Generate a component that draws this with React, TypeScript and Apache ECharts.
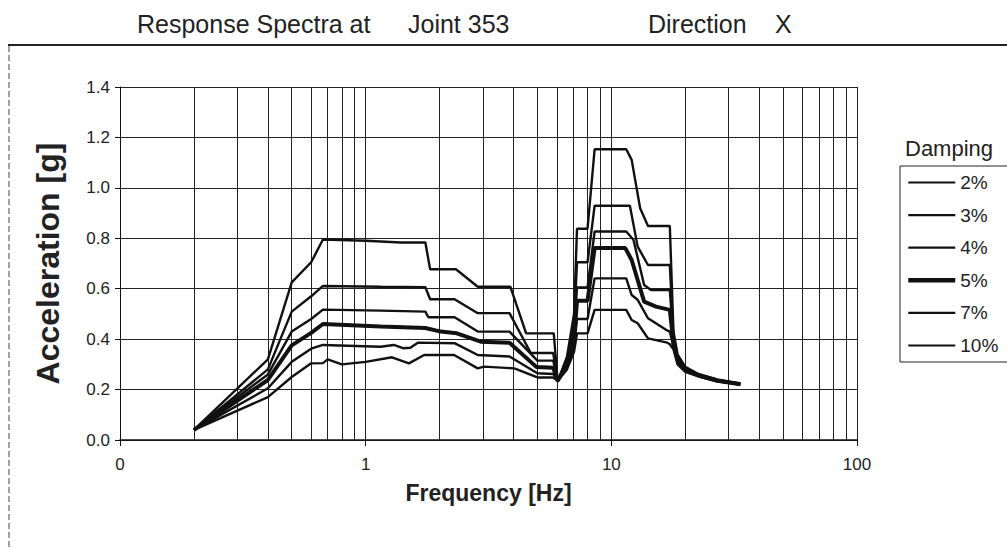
import React, { useEffect, useRef } from "react";
import * as echarts from "echarts";

// Frequency [Hz], Acceleration [g]
const damp2: [number, number][] = [
  [0.2, 0.04], [0.4, 0.32], [0.5, 0.625], [0.6, 0.705], [0.67, 0.795], [1.0, 0.79], [1.39, 0.783], [1.75, 0.783],
  [1.83, 0.677], [2.33, 0.677], [2.86, 0.608], [3.88, 0.608], [4.5, 0.423], [5.83, 0.423], [6.05, 0.231],
  [6.6, 0.33], [7.05, 0.5], [7.25, 0.838], [8.0, 0.838], [8.55, 1.153], [11.5, 1.153], [12.1, 1.111],
  [13.1, 0.919], [14.1, 0.849], [17.3, 0.849], [17.9, 0.43], [18.6, 0.34], [20, 0.29], [22.6, 0.262],
  [27, 0.24], [33.5, 0.224],
];
const damp3: [number, number][] = [
  [0.2, 0.04], [0.4, 0.28], [0.5, 0.509], [0.6, 0.57], [0.67, 0.611], [1.15, 0.608], [1.75, 0.606],
  [1.83, 0.558], [2.3, 0.558], [2.86, 0.503], [3.85, 0.503], [4.7, 0.345], [5.8, 0.345], [6.05, 0.235],
  [6.6, 0.32], [7.05, 0.46], [7.25, 0.705], [8.0, 0.705], [8.55, 0.929], [11.9, 0.929], [12.8, 0.767],
  [14.1, 0.694], [17.3, 0.694], [17.9, 0.41], [18.6, 0.33], [20, 0.285], [22.6, 0.26], [27, 0.238],
  [33.5, 0.223],
];
const damp4: [number, number][] = [
  [0.2, 0.04], [0.4, 0.26], [0.5, 0.43], [0.6, 0.48], [0.67, 0.517], [1.15, 0.513], [1.75, 0.509],
  [1.8, 0.487], [2.3, 0.487], [2.86, 0.43], [3.85, 0.43], [5.0, 0.315], [5.8, 0.315], [6.05, 0.235],
  [6.6, 0.31], [7.05, 0.43], [7.25, 0.605], [8.0, 0.605], [8.55, 0.827], [11.5, 0.827], [12.3, 0.794],
  [13.6, 0.615], [14.5, 0.595], [17.3, 0.595], [17.9, 0.395], [18.6, 0.325], [20, 0.28], [22.6, 0.258],
  [27, 0.236], [33.5, 0.222],
];
const damp5: [number, number][] = [
  [0.2, 0.04], [0.4, 0.238], [0.5, 0.375], [0.6, 0.425], [0.67, 0.46], [1.15, 0.45], [1.75, 0.444],
  [2.02, 0.43], [2.35, 0.423], [2.94, 0.39], [3.85, 0.386], [4.95, 0.29], [5.8, 0.287], [6.05, 0.235],
  [6.6, 0.3], [7.05, 0.4], [7.25, 0.552], [8.0, 0.552], [8.55, 0.761], [11.4, 0.761], [12.1, 0.714],
  [13.6, 0.549], [15.2, 0.529], [17.3, 0.516], [17.9, 0.385], [18.6, 0.32], [20, 0.278], [22.6, 0.256],
  [27, 0.235], [33.5, 0.221],
];
const damp7: [number, number][] = [
  [0.2, 0.04], [0.4, 0.205], [0.5, 0.31], [0.6, 0.362], [0.67, 0.377], [1.15, 0.37], [1.3, 0.377],
  [1.42, 0.364], [1.52, 0.366], [1.63, 0.386], [2.3, 0.384], [2.86, 0.337], [3.85, 0.331], [5.0, 0.265],
  [5.8, 0.262], [6.05, 0.235], [6.6, 0.29], [7.05, 0.37], [7.25, 0.48], [8.0, 0.48], [8.55, 0.641],
  [11.5, 0.641], [12.1, 0.575], [12.8, 0.556], [14.1, 0.483], [16.7, 0.437], [17.3, 0.43], [17.9, 0.37],
  [18.6, 0.31], [20, 0.275], [22.6, 0.254], [27, 0.234], [33.5, 0.22],
];
const damp10: [number, number][] = [
  [0.2, 0.04], [0.4, 0.17], [0.5, 0.25], [0.6, 0.304], [0.67, 0.305], [0.7, 0.32], [0.8, 0.3], [1.0, 0.31],
  [1.28, 0.328], [1.5, 0.304], [1.73, 0.337], [2.29, 0.337], [2.86, 0.284], [3.03, 0.291], [4.03, 0.284],
  [5.0, 0.248], [5.8, 0.248], [6.05, 0.235], [6.6, 0.28], [7.05, 0.35], [7.25, 0.423], [8.0, 0.423],
  [8.55, 0.516], [11.5, 0.516], [12.1, 0.476], [12.8, 0.463], [14.1, 0.403], [16.9, 0.386], [17.3, 0.38],
  [17.9, 0.36], [18.6, 0.3], [20, 0.27], [22.6, 0.252], [27, 0.233], [33.5, 0.22],
];

const seriesNames = ["2%", "3%", "4%", "5%", "7%", "10%"];
const seriesData = [damp2, damp3, damp4, damp5, damp7, damp10];
const xTickLabels = ["0", "1", "10", "100"];
const xMinorGrid = [0.2, 0.3, 0.4, 0.5, 0.6, 0.7, 0.8, 0.9, 2, 3, 4, 5, 6, 7, 8, 9, 20, 30, 40, 50, 60, 70, 80, 90];

const FONT = "'Liberation Sans', Arial, sans-serif";

export default function App() {
  const ref = useRef<HTMLDivElement>(null);
  useEffect(() => {
    if (!ref.current) return;
    const chart = echarts.init(ref.current, undefined, { renderer: "svg" });
    const lineW = (name: string) => (name === "5%" ? 4 : 2.4);
    const series: any[] = seriesNames.map((name, i) => ({
      name,
      type: "line",
      data: seriesData[i],
      symbol: "none",
      smooth: false,
      z: 3,
      lineStyle: { color: "#111", width: lineW(name) },
      itemStyle: { color: "#111" },
    }));
    series[0].markLine = {
      silent: true,
      symbol: ["none", "none"],
      label: { show: false },
      lineStyle: { color: "#222", width: 1, type: "solid" },
      emphasis: { disabled: true },
      data: xMinorGrid.map((v) => ({ xAxis: v })),
      z: 1,
    };
    chart.setOption({
      animation: false,
      backgroundColor: "#fff",
      textStyle: { fontFamily: FONT },
      grid: { left: 120, right: 150, top: 87, bottom: 108, containLabel: false },
      xAxis: {
        type: "log",
        logBase: 10,
        min: 0.1,
        max: 100,
        name: "Frequency [Hz]",
        nameLocation: "middle",
        nameGap: 41,
        nameTextStyle: { fontSize: 23, fontWeight: "bold", color: "#222", fontFamily: FONT, verticalAlign: "top" },
        axisLine: { show: true, lineStyle: { color: "#111", width: 1.5 } },
        axisTick: { show: true, length: 6, inside: false, lineStyle: { color: "#111" } },
        axisLabel: {
          margin: 16,
          fontSize: 17,
          color: "#222",
          fontFamily: FONT,
          formatter: (_v: number, idx: number) => xTickLabels[idx] ?? "",
        },
        splitLine: { show: true, lineStyle: { color: "#222", width: 1 } },
        minorTick: { show: false },
      },
      yAxis: {
        type: "value",
        min: 0,
        max: 1.4,
        interval: 0.2,
        name: "Acceleration [g]",
        nameLocation: "middle",
        nameGap: 56,
        nameRotate: 90,
        nameTextStyle: { fontSize: 32, fontWeight: "bold", color: "#222", fontFamily: FONT },
        axisLine: { show: true, lineStyle: { color: "#111", width: 1 } },
        axisTick: { show: true, length: 5, lineStyle: { color: "#111" } },
        axisLabel: {
          margin: 10,
          fontSize: 17,
          color: "#222",
          fontFamily: FONT,
          formatter: (v: number) => v.toFixed(1),
        },
        splitLine: { show: true, lineStyle: { color: "#222", width: 1 } },
      },
      legend: {
        orient: "vertical",
        left: 906,
        top: 173,
        itemWidth: 47,
        itemHeight: 14,
        itemGap: 13.6,
        padding: 0,
        selectedMode: false,
        data: seriesNames.map((name) => ({
          name,
          lineStyle: { width: lineW(name) === 4 ? 4.5 : 2.2, color: "#111" },
        })),
        itemStyle: { opacity: 0, borderWidth: 0 },
        textStyle: { fontSize: 19, color: "#222", fontFamily: FONT, padding: [0, 0, 0, 0] },
      },
      graphic: [
        { type: "line", shape: { x1: 8, y1: 45, x2: 1007, y2: 45 }, style: { stroke: "#222", lineWidth: 2 } },
        { type: "line", shape: { x1: 9, y1: 46, x2: 9, y2: 548 }, style: { stroke: "#444", lineWidth: 1, lineDash: [6, 3] } },
        { type: "rect", shape: { x: 900, y: 166, width: 130, height: 196 }, style: { fill: "none", stroke: "#222", lineWidth: 1 } },
        { type: "text", x: 905, y: 148, style: { text: "Damping", font: `22px ${FONT}`, fill: "#222", verticalAlign: "middle" } },
        { type: "text", x: 137, y: 24, style: { text: "Response Spectra at", font: `25px ${FONT}`, fill: "#222", verticalAlign: "middle" } },
        { type: "text", x: 408, y: 24, style: { text: "Joint 353", font: `25px ${FONT}`, fill: "#222", verticalAlign: "middle" } },
        { type: "text", x: 648, y: 24, style: { text: "Direction", font: `25px ${FONT}`, fill: "#222", verticalAlign: "middle" } },
        { type: "text", x: 775, y: 24, style: { text: "X", font: `25px ${FONT}`, fill: "#222", verticalAlign: "middle" } },
      ],
      series,
    });
    return () => chart.dispose();
  }, []);
  return <div ref={ref} style={{ position: "fixed", left: 0, top: 0, width: 1007, height: 548 }} />;
}
